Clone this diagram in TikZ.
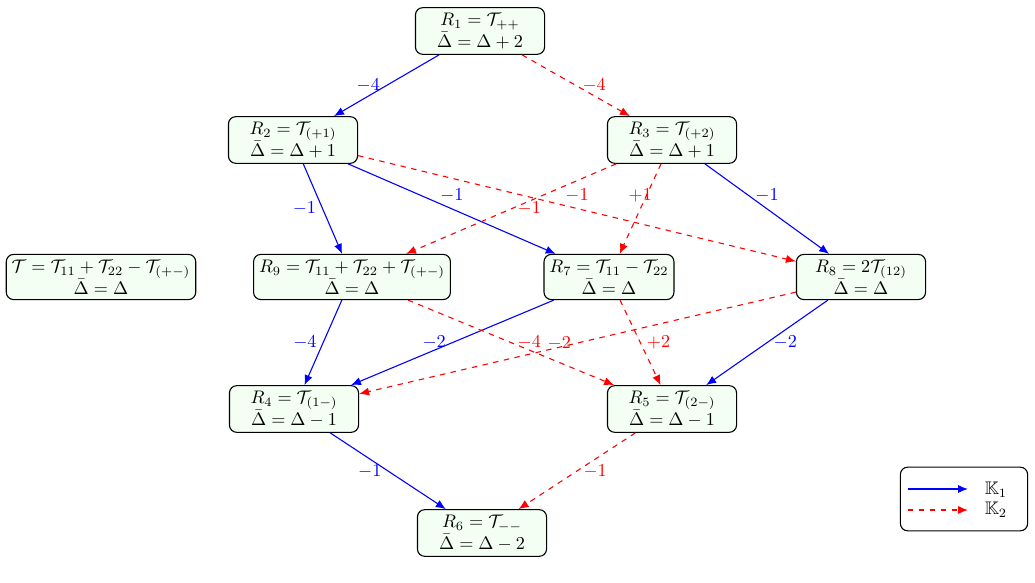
\documentclass[tikz,border=0pt]{standalone}
\usepackage{amsmath,amssymb}
\usetikzlibrary{arrows.meta}

\tikzset{every picture/.style={line width=0.6pt}}
\tikzset{
  rbox/.style={draw, rounded corners=4pt, fill=green!5, align=center,
    minimum width=71pt, inner xsep=3pt, inner ysep=3pt},
  legbox/.style={draw, rounded corners=4pt, fill=white,
    minimum width=70pt, minimum height=35pt},
  kone/.style={blue, -{Latex[length=5.5pt,width=4.5pt]}},
  ktwo/.style={red, dashed, -{Latex[length=5.5pt,width=4.5pt]}},
}

\begin{document}
\begin{tikzpicture}[x=0.55pt,y=0.55pt,yscale=-1,xscale=1]
\useasboundingbox (0,0) rectangle (1035,583);

%Rounded Rect: top
\node[rbox] (R1) at (480,31) {$R_1 = \mathcal{T}_{++}$\\ $\bar{\Delta} = \Delta + 2$};
%Rounded Rect: second row
\node[rbox] (R2) at (293,140) {$R_2 = \mathcal{T}_{(+1)}$\\ $\bar{\Delta} = \Delta + 1$};
\node[rbox] (R3) at (672,140) {$R_3 = \mathcal{T}_{(+2)}$\\ $\bar{\Delta} = \Delta + 1$};
%Rounded Rect: middle row
\node[rbox] (T) at (101,277) {$\mathcal{T} = \mathcal{T}_{11} + \mathcal{T}_{22} - \mathcal{T}_{(+-)}$\\ $\bar{\Delta} = \Delta$};
\node[rbox] (R9) at (352,277) {$R_9 = \mathcal{T}_{11} + \mathcal{T}_{22} + \mathcal{T}_{(+-)}$\\ $\bar{\Delta} = \Delta$};
\node[rbox] (R7) at (609,277) {$R_7 = \mathcal{T}_{11} - \mathcal{T}_{22}$\\ $\bar{\Delta} = \Delta$};
\node[rbox] (R8) at (861,277) {$R_8 = 2\mathcal{T}_{(12)}$\\ $\bar{\Delta} = \Delta$};
%Rounded Rect: fourth row
\node[rbox] (R4) at (294,409) {$R_4 = \mathcal{T}_{(1-)}$\\ $\bar{\Delta} = \Delta - 1$};
\node[rbox] (R5) at (672,409) {$R_5 = \mathcal{T}_{(2-)}$\\ $\bar{\Delta} = \Delta - 1$};
%Rounded Rect: bottom
\node[rbox] (R6) at (482,533) {$R_6 = \mathcal{T}_{--}$\\ $\bar{\Delta} = \Delta - 2$};

%Straight Lines: K1
\draw[kone] (R1) -- node[left] {$-4$} (R2);
\draw[kone] (R2) -- node[left] {$-1$} (R9);
\draw[kone] (R2) -- node[above] {$-1$} (R7);
\draw[kone] (R3) -- node[above] {$-1$} (R8);
\draw[kone] (R9) -- node[left] {$-4$} (R4);
\draw[kone] (R7) -- node[left] {$-2$} (R4);
\draw[kone] (R8) -- node[right] {$-2$} (R5);
\draw[kone] (R4) -- node[left] {$-1$} (R6);

%Straight Lines: K2
\draw[ktwo] (R1) -- node[right] {$-4$} (R3);
\draw[ktwo] (R3) -- node[right] {$-1$} (R9);
\draw[ktwo] (R2) -- node[above] {$-1$} (R8);
\draw[ktwo] (R3) -- node[above] {$+1$} (R7);
\draw[ktwo] (R9) -- node[right] {$-4$} (R5);
\draw[ktwo] (R8) -- node[left] {$-2$} (R4);
\draw[ktwo] (R7) -- node[right] {$+2$} (R5);
\draw[ktwo] (R5) -- node[right] {$-1$} (R6);

%Legend
\node[legbox] (legend) at (964,499) {};
\coordinate (k1a) at (908,489);
\coordinate (k1b) at (968,489);
\coordinate (k2a) at (908,510);
\coordinate (k2b) at (968,510);
\node (k1) at (996,490) {$\mathbb{K}_1$};
\node (k2) at (996,510) {$\mathbb{K}_2$};
\draw[kone] (k1a) -- (k1b);
\draw[ktwo] (k2a) -- (k2b);

\end{tikzpicture}
\end{document}
